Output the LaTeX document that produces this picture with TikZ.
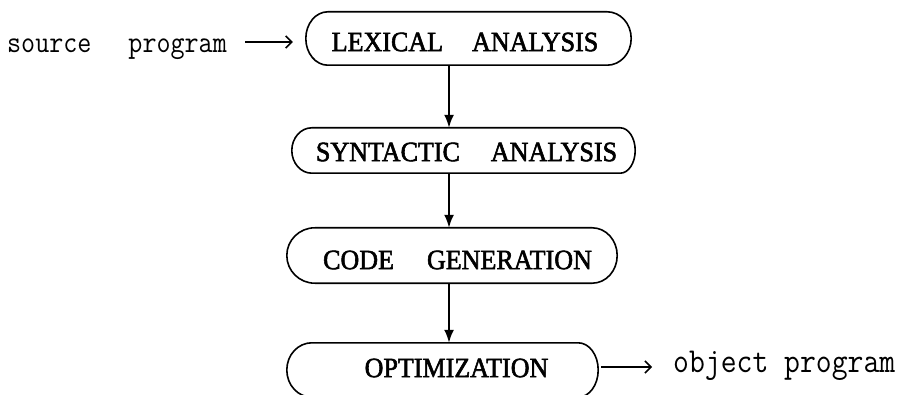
\documentclass[tikz,border=0pt]{standalone}
\usepackage{fontspec}
\usetikzlibrary{arrows.meta,calc}
\newfontfamily\stagefont[FakeBold=2,FakeStretch=0.93]{Liberation Serif}
\newfontfamily\iofont[FakeStretch=0.88]{Latin Modern Mono}

\begin{document}
\begin{tikzpicture}[x=1pt,y=-1pt,
  stagebox/.style={rectangle, inner sep=0pt},
  stagetext/.style={inner sep=0pt, font=\stagefont\fontsize{28pt}{28pt}\selectfont},
  outline/.style={line width=1.6pt},
  flow/.style={line width=2pt, -{Latex[length=13pt,width=10pt]}},
  io/.style={line width=1.6pt, -{Straight Barb[length=6pt,width=12pt,line width=1.5pt]}},
  iotext/.style={inner sep=0pt, anchor=base west}]
\useasboundingbox (0,0) rectangle (904,395);

% compiler phases: outline frames
\node[stagebox, minimum width=325pt, minimum height=53pt] (lex) at (468.5,38.5) {};
\node[stagebox, minimum width=343pt, minimum height=45pt] (syn) at (463.5,150.5) {};
\node[stagebox, minimum width=330pt, minimum height=55pt] (gen) at (452,255.5) {};
\node[stagebox, minimum width=311pt, minimum height=54pt] (opt) at (442.5,370) {};

% phase names
\node[stagetext] (lexT) at (465,42)  {LEXICAL\hspace{29pt}ANALYSIS};
\node[stagetext] (synT) at (466.5,152) {SYNTACTIC\hspace{31pt}ANALYSIS};
\node[stagetext] (genT) at (457.5,260) {CODE\hspace{33pt}GENERATION};
\node[stagetext] (optT) at (456.5,368) {OPTIMIZATION};

% pill-shaped outlines: flat top and bottom, elliptic ends
\foreach \b/\rl/\rr in {lex/22/24, syn/20/15, gen/28/25, opt/25/20}{
  \draw[outline] let \p1=(\b.north), \p2=(\b.south), \n1={(\y1-\y2)/2} in
    ([xshift=\rl pt]\b.north west) -- ([xshift=-\rr pt]\b.north east)
    arc[start angle=90, end angle=-90, x radius=\rr pt, y radius=\n1]
    -- ([xshift=\rl pt]\b.south west)
    arc[start angle=270, end angle=90, x radius=\rl pt, y radius=\n1] -- cycle;
}

% input and output
\node[iotext, font=\iofont\fontsize{31pt}{31pt}\selectfont] (src) at (7,53)
  {source\hspace{37pt}program};
\node[iotext, font=\iofont\fontsize{35pt}{35pt}\selectfont] (obj) at (673,372)
  {object program};

% vertical flow between phases
\coordinate (spine) at (449,0);
\draw[flow] (lex.south -| spine) -- (syn.north -| spine);
\draw[flow] (syn.south -| spine) -- (gen.north -| spine);
\draw[flow] (gen.south -| spine) -- (opt.north -| spine);

\draw[io, shorten <=18pt, shorten >=13pt]
  ([yshift=-3.5pt]lex.west -| src.east) -- ([yshift=-3.5pt]lex.west);
\draw[io, shorten <=3pt, shorten >=21pt]
  ([yshift=3pt]opt.east) -- ([yshift=3pt]opt.east -| obj.west);
\end{tikzpicture}
\end{document}
